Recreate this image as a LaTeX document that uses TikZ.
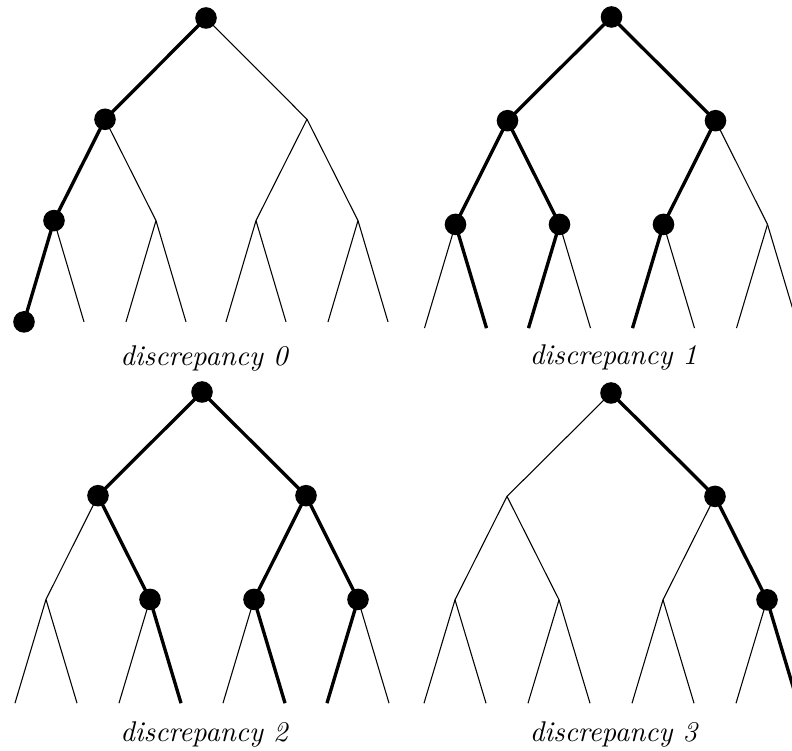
\documentclass[tikz,border=0pt]{standalone}
\usetikzlibrary{calc}
\tikzset{
  thinedge/.style={line width=0.4pt},
  thickedge/.style={line width=1.25pt},
  dotnode/.style={circle,fill=black,draw=none,inner sep=0pt,minimum size=8.1pt},
  captionnode/.style={font=\fontsize{10.7}{12}\selectfont\itshape, anchor=base, inner sep=0pt}
}
% #1 prefix, #2 root x, #3 root y, #4 dx1, #5 dx2, #6 dx3, #7 dy
\newcommand\mktree[7]{%
  \coordinate (#1-1) at (#2,#3);
  \coordinate (#1-2) at ({#2-#4},{#3+#7});
  \coordinate (#1-3) at ({#2+#4},{#3+#7});
  \coordinate (#1-4) at ({#2-#4-#5},{#3+2*#7});
  \coordinate (#1-5) at ({#2-#4+#5},{#3+2*#7});
  \coordinate (#1-6) at ({#2+#4-#5},{#3+2*#7});
  \coordinate (#1-7) at ({#2+#4+#5},{#3+2*#7});
  \coordinate (#1-8)  at ({#2-#4-#5-#6},{#3+3*#7});
  \coordinate (#1-9)  at ({#2-#4-#5+#6},{#3+3*#7});
  \coordinate (#1-10) at ({#2-#4+#5-#6},{#3+3*#7});
  \coordinate (#1-11) at ({#2-#4+#5+#6},{#3+3*#7});
  \coordinate (#1-12) at ({#2+#4-#5-#6},{#3+3*#7});
  \coordinate (#1-13) at ({#2+#4-#5+#6},{#3+3*#7});
  \coordinate (#1-14) at ({#2+#4+#5-#6},{#3+3*#7});
  \coordinate (#1-15) at ({#2+#4+#5+#6},{#3+3*#7});
  \foreach \i in {2,...,15}{%
    \pgfmathtruncatemacro\pidx{floor(\i/2)}%
    \draw[thinedge] (#1-\pidx) -- (#1-\i);
  }%
}
% #1 prefix, #2 list of thick child indices, #3 list of dotted indices
\newcommand\marktree[3]{%
  \foreach \i in {#2}{%
    \pgfmathtruncatemacro\pidx{floor(\i/2)}%
    \draw[thickedge] (#1-\pidx) -- (#1-\i);
  }%
  \foreach \i in {#3}{%
    \node[dotnode] (#1-d\i) at (#1-\i) {};
  }%
}
\begin{document}
\begin{tikzpicture}[x=0.375pt,y=-0.375pt]
  \useasboundingbox (0,0) rectangle (792,751);
  % tree 1
  \mktree{a}{206}{18}{101}{51}{30}{101.3}
  \marktree{a}{2,4,8}{1,2,4,8}
  % tree 2
  \mktree{b}{611.5}{17}{104}{52}{31}{103.7}
  \marktree{b}{2,3,4,5,6,9,10,12}{1,2,3,4,5,6}
  % tree 3
  \mktree{c}{202}{392}{104}{52}{31}{103.7}
  \marktree{c}{2,3,5,6,7,11,13,14}{1,2,3,5,6,7}
  % tree 4
  \mktree{d}{611}{393}{104}{52}{31}{103.4}
  \marktree{d}{3,7,15}{1,3,7}
  % captions
  \node[captionnode] (capa) at (204,366) {discrepancy 0};
  \node[captionnode] (capb) at (613.5,365) {discrepancy 1};
  \node[captionnode] (capc) at (204,741) {discrepancy 2};
  \node[captionnode] (capd) at (613.5,741) {discrepancy 3};
\end{tikzpicture}
\end{document}
